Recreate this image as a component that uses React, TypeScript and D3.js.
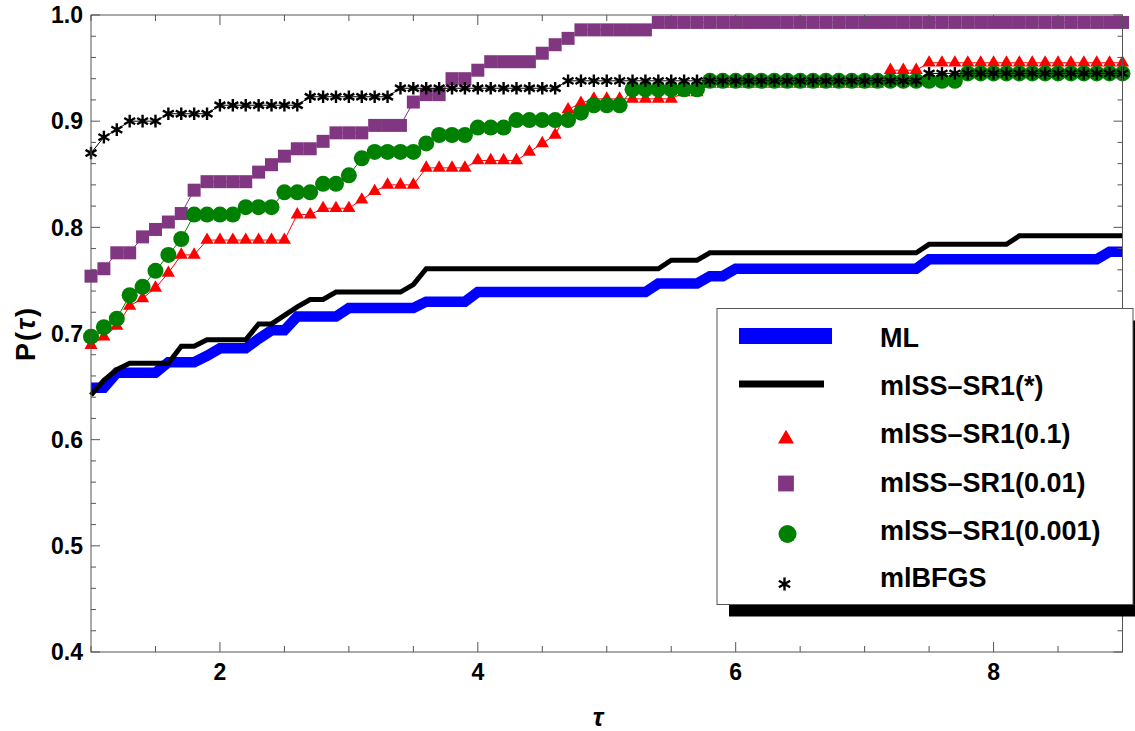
import React from "react";
import * as d3 from "d3";

// tau grid of the performance profile
const tau = [
  1.0, 1.1, 1.2, 1.3, 1.4, 1.5, 1.6, 1.7, 1.8, 1.9,
  2.0, 2.1, 2.2, 2.3, 2.4, 2.5, 2.6, 2.7, 2.8, 2.9,
  3.0, 3.1, 3.2, 3.3, 3.4, 3.5, 3.6, 3.7, 3.8, 3.9,
  4.0, 4.1, 4.2, 4.3, 4.4, 4.5, 4.6, 4.7, 4.8, 4.9,
  5.0, 5.1, 5.2, 5.3, 5.4, 5.5, 5.6, 5.7, 5.8, 5.9,
  6.0, 6.1, 6.2, 6.3, 6.4, 6.5, 6.6, 6.7, 6.8, 6.9,
  7.0, 7.1, 7.2, 7.3, 7.4, 7.5, 7.6, 7.7, 7.8, 7.9,
  8.0, 8.1, 8.2, 8.3, 8.4, 8.5, 8.6, 8.7, 8.8, 8.9,
  9.0,
];

const mlValues = [
  0.649, 0.649, 0.663, 0.663, 0.663, 0.663, 0.673, 0.673, 0.673, 0.679,
  0.686, 0.686, 0.686, 0.695, 0.703, 0.703, 0.716, 0.716, 0.716, 0.716,
  0.724, 0.724, 0.724, 0.724, 0.724, 0.724, 0.730, 0.730, 0.730, 0.730,
  0.739, 0.739, 0.739, 0.739, 0.739, 0.739, 0.739, 0.739, 0.739, 0.739,
  0.739, 0.739, 0.739, 0.739, 0.747, 0.747, 0.747, 0.747, 0.754, 0.754,
  0.761, 0.761, 0.761, 0.761, 0.761, 0.761, 0.761, 0.761, 0.761, 0.761,
  0.761, 0.761, 0.761, 0.761, 0.761, 0.770, 0.770, 0.770, 0.770, 0.770,
  0.770, 0.770, 0.770, 0.770, 0.770, 0.770, 0.770, 0.770, 0.770, 0.777,
  0.777,
];

const sr1StarValues = [
  0.642, 0.656, 0.666, 0.672, 0.672, 0.672, 0.672, 0.688, 0.688, 0.694,
  0.694, 0.694, 0.694, 0.709, 0.709, 0.717, 0.725, 0.732, 0.732, 0.739,
  0.739, 0.739, 0.739, 0.739, 0.739, 0.746, 0.761, 0.761, 0.761, 0.761,
  0.761, 0.761, 0.761, 0.761, 0.761, 0.761, 0.761, 0.761, 0.761, 0.761,
  0.761, 0.761, 0.761, 0.761, 0.761, 0.769, 0.769, 0.769, 0.776, 0.776,
  0.776, 0.776, 0.776, 0.776, 0.776, 0.776, 0.776, 0.776, 0.776, 0.776,
  0.776, 0.776, 0.776, 0.776, 0.776, 0.784, 0.784, 0.784, 0.784, 0.784,
  0.784, 0.784, 0.792, 0.792, 0.792, 0.792, 0.792, 0.792, 0.792, 0.792,
  0.792,
];

const sr1Tol1 = [
  0.689, 0.697, 0.707, 0.726, 0.733, 0.743, 0.757, 0.774, 0.774, 0.788,
  0.788, 0.788, 0.788, 0.788, 0.788, 0.788, 0.812, 0.812, 0.818, 0.818,
  0.818, 0.826, 0.834, 0.840, 0.840, 0.840, 0.856, 0.856, 0.856, 0.856,
  0.863, 0.863, 0.863, 0.863, 0.871, 0.879, 0.887, 0.911, 0.917, 0.921,
  0.921, 0.921, 0.921, 0.921, 0.921, 0.921, 0.927, 0.927, 0.935, 0.935,
  0.935, 0.935, 0.935, 0.935, 0.935, 0.935, 0.935, 0.935, 0.935, 0.935,
  0.935, 0.935, 0.948, 0.948, 0.948, 0.955, 0.955, 0.955, 0.955, 0.955,
  0.955, 0.955, 0.955, 0.955, 0.955, 0.955, 0.955, 0.955, 0.955, 0.955,
  0.955,
];

const sr1Tol01 = [
  0.754, 0.761, 0.776, 0.776, 0.791, 0.798, 0.805, 0.813, 0.835, 0.843,
  0.843, 0.843, 0.843, 0.852, 0.859, 0.867, 0.874, 0.874, 0.881, 0.889,
  0.889, 0.889, 0.896, 0.896, 0.896, 0.918, 0.925, 0.925, 0.940, 0.940,
  0.948, 0.956, 0.956, 0.956, 0.956, 0.964, 0.972, 0.978, 0.986, 0.986,
  0.986, 0.986, 0.986, 0.986, 0.993, 0.993, 0.993, 0.993, 0.993, 0.993,
  0.993, 0.993, 0.993, 0.993, 0.993, 0.993, 0.993, 0.993, 0.993, 0.993,
  0.993, 0.993, 0.993, 0.993, 0.993, 0.993, 0.993, 0.993, 0.993, 0.993,
  0.993, 0.993, 0.993, 0.993, 0.993, 0.993, 0.993, 0.993, 0.993, 0.993,
  0.993,
];

const sr1Tol001 = [
  0.697, 0.706, 0.714, 0.736, 0.744, 0.759, 0.774, 0.789, 0.812, 0.812,
  0.812, 0.812, 0.819, 0.819, 0.819, 0.833, 0.833, 0.833, 0.841, 0.841,
  0.849, 0.865, 0.871, 0.871, 0.871, 0.871, 0.879, 0.887, 0.887, 0.887,
  0.894, 0.894, 0.894, 0.901, 0.901, 0.901, 0.901, 0.901, 0.908, 0.915,
  0.915, 0.915, 0.930, 0.930, 0.930, 0.930, 0.930, 0.930, 0.938, 0.938,
  0.938, 0.938, 0.938, 0.938, 0.938, 0.938, 0.938, 0.938, 0.938, 0.938,
  0.938, 0.938, 0.938, 0.938, 0.938, 0.938, 0.938, 0.938, 0.945, 0.945,
  0.945, 0.945, 0.945, 0.945, 0.945, 0.945, 0.945, 0.945, 0.945, 0.945,
  0.945,
];

const mlbfgsValues = [
  0.870, 0.885, 0.892, 0.900, 0.900, 0.900, 0.907, 0.907, 0.907, 0.907,
  0.915, 0.915, 0.915, 0.915, 0.915, 0.915, 0.915, 0.923, 0.923, 0.923,
  0.923, 0.923, 0.923, 0.923, 0.931, 0.931, 0.931, 0.931, 0.931, 0.931,
  0.931, 0.931, 0.931, 0.931, 0.931, 0.931, 0.931, 0.938, 0.938, 0.938,
  0.938, 0.938, 0.938, 0.938, 0.938, 0.938, 0.938, 0.938, 0.938, 0.938,
  0.938, 0.938, 0.938, 0.938, 0.938, 0.938, 0.938, 0.938, 0.938, 0.938,
  0.938, 0.938, 0.938, 0.938, 0.938, 0.945, 0.945, 0.945, 0.945, 0.945,
  0.945, 0.945, 0.945, 0.945, 0.945, 0.945, 0.945, 0.945, 0.945, 0.945,
  0.945,
];

const xTickLabels = [2, 4, 6, 8];
const yTickLabels = [0.4, 0.5, 0.6, 0.7, 0.8, 0.9, 1.0];
const legendLabels = [
  "ML",
  "mlSS\u2013SR1(*)",
  "mlSS\u2013SR1(0.1)",
  "mlSS\u2013SR1(0.01)",
  "mlSS\u2013SR1(0.001)",
  "mlBFGS",
];

const W = 1135;
const H = 731;
const left = 91;
const right = 1122.5;
const top = 15;
const bottom = 652;
const frameColor = "#555";
const font = "'Liberation Sans', Arial, sans-serif";

const x = d3.scaleLinear().domain([1, 9]).range([left, right]);
const y = d3.scaleLinear().domain([0.4, 1.0]).range([bottom, top]);

const pts = (vals: number[]) => tau.map((t, i) => [t, vals[i]] as [number, number]);
const line = d3
  .line<[number, number]>()
  .x((d) => x(d[0]))
  .y((d) => y(d[1]));

const triangle = (s: number) => d3.symbol(d3.symbolTriangle, s)() as string;
const square = (s: number) => d3.symbol(d3.symbolSquare, s)() as string;

const starPath = (r: number) => {
  const c = r * Math.cos(Math.PI / 6);
  const s = r * Math.sin(Math.PI / 6);
  return `M0,${-r}L0,${r}M${-c},${-s}L${c},${s}M${-c},${s}L${c},${-s}`;
};

const App = () => {
  const xMinor = x.ticks(16);
  const yMinor = y.ticks(30);
  const triPath = triangle(75);
  const sqPath = square(169);
  const star = starPath(6.3);

  const markers = (vals: number[], draw: (px: number, py: number, i: number) => React.ReactNode) =>
    pts(vals).map((d, i) => draw(x(d[0]), y(d[1]), i));

  const legendX = 717;
  const legendY = 308.5;
  const legendW = 416;
  const legendH = 296;
  const baselines = [347, 395, 443, 491.5, 540, 586.5];

  return (
    <svg
      width={W}
      height={H}
      style={{ position: "absolute", left: 0, top: 0, background: "#fff" }}
      fontFamily={font}
    >
      {/* series */}
      <path d={line(pts(mlValues)) as string} fill="none" stroke="#0000ff" strokeWidth={10.5} />
      <path d={line(pts(sr1StarValues)) as string} fill="none" stroke="#000" strokeWidth={5} />

      <path d={line(pts(sr1Tol1)) as string} fill="none" stroke="#ff0000" strokeWidth={1} />
      {markers(sr1Tol1, (px, py, i) => (
        <path key={"r" + i} d={triPath} transform={`translate(${px},${py})`} fill="#ff0000" />
      ))}

      <path d={line(pts(sr1Tol01)) as string} fill="none" stroke="#803680" strokeWidth={1} />
      {markers(sr1Tol01, (px, py, i) => (
        <path key={"p" + i} d={sqPath} transform={`translate(${px},${py})`} fill="#803680" />
      ))}

      <path d={line(pts(sr1Tol001)) as string} fill="none" stroke="#008000" strokeWidth={1} />
      {markers(sr1Tol001, (px, py, i) => (
        <circle key={"g" + i} cx={px} cy={py} r={8} fill="#008000" />
      ))}

      <path d={line(pts(mlbfgsValues)) as string} fill="none" stroke="#000" strokeWidth={1} />
      {markers(mlbfgsValues, (px, py, i) => (
        <path key={"s" + i} d={star} transform={`translate(${px},${py})`} stroke="#000" strokeWidth={2.4} fill="none" />
      ))}

      {/* frame and ticks */}
      <rect x={left} y={top} width={right - left} height={bottom - top} fill="none" stroke={frameColor} strokeWidth={1} />
      {xMinor.map((t) => {
        const len = xTickLabels.includes(t) ? 10 : 6;
        return (
          <g key={"xt" + t} stroke={frameColor} strokeWidth={1}>
            <line x1={x(t)} x2={x(t)} y1={bottom} y2={bottom - len} />
            <line x1={x(t)} x2={x(t)} y1={top} y2={top + len} />
          </g>
        );
      })}
      {yMinor.map((t) => {
        const major = yTickLabels.some((v) => Math.abs(v - t) < 1e-6);
        const len = major ? 9 : 5;
        return (
          <g key={"yt" + t} stroke={frameColor} strokeWidth={1}>
            <line x1={left} x2={left + len} y1={y(t)} y2={y(t)} />
            <line x1={right} x2={right - len} y1={y(t)} y2={y(t)} />
          </g>
        );
      })}
      {xTickLabels.map((t) => (
        <text key={"xl" + t} x={x(t)} y={680} textAnchor="middle" fontSize={23} fontWeight="bold">
          {t}
        </text>
      ))}
      {yTickLabels.map((t) => (
        <text key={"yl" + t} x={83} y={y(t)} dy="0.36em" textAnchor="end" fontSize={23} fontWeight="bold">
          {t.toFixed(1)}
        </text>
      ))}

      {/* axis labels */}
      <text x={598} y={726} textAnchor="middle" fontSize={26} fontWeight="bold" fontStyle="italic">
        τ
      </text>
      <text
        transform={`translate(35,${y(0.7)}) rotate(-90)`}
        textAnchor="middle"
        fontSize={27}
        fontWeight="bold"
        letterSpacing={2}
      >
        P(<tspan fontStyle="italic">τ</tspan>)
      </text>

      {/* legend */}
      <rect x={legendX + 12} y={legendY + 12} width={legendW} height={legendH} fill="#000" />
      <rect x={legendX} y={legendY} width={legendW} height={legendH} fill="#fff" stroke={frameColor} strokeWidth={1} />
      <line x1={739} x2={832} y1={336} y2={336} stroke="#0000ff" strokeWidth={16} />
      <line x1={739} x2={824} y1={384} y2={384} stroke="#000" strokeWidth={7} />
      <path d={triangle(111)} transform="translate(786,439)" fill="#ff0000" />
      <path d={square(250)} transform="translate(786,483.5)" fill="#803680" />
      <circle cx={787.5} cy={534} r={9} fill="#008000" />
      <path d={starPath(6.5)} transform="translate(784.5,584)" stroke="#000" strokeWidth={2.4} fill="none" />
      {legendLabels.map((l, i) => (
        <text key={l} x={880} y={baselines[i]} fontSize={27} fontWeight="bold">
          {l}
        </text>
      ))}
    </svg>
  );
};

export default App;
